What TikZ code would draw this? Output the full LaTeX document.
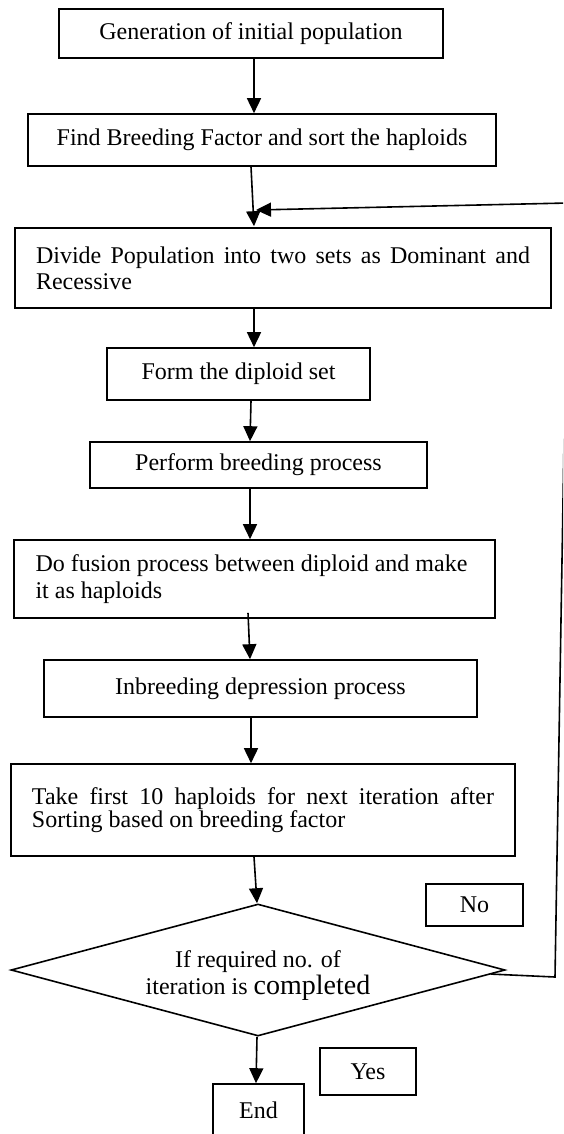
\documentclass[tikz,border=0pt]{standalone}
\usepackage{fontspec}
\setmainfont{Liberation Serif}
\usetikzlibrary{arrows.meta,shapes.geometric}
\begin{document}
\begin{tikzpicture}[x=0.5pt,y=-0.5pt,
  box/.style={draw, line width=0.8pt, inner sep=0pt, font=\fontsize{12}{13}\selectfont, align=center},
  arr/.style={line width=0.8pt, -{Triangle[width=7pt,length=7.5pt]}},
  plain/.style={line width=0.8pt}]
\useasboundingbox (0,0) rectangle (563,1134);
\clip (0,0) rectangle (563,1134);
\fill[white] (0,0) rectangle (563,1134);

\node[box, minimum width=192pt, minimum height=24.5pt] (b1) at (251,33.5) {Generation of initial population};
\node[box, minimum width=234pt, minimum height=26pt] (b2) at (262,140) {Find Breeding Factor and sort the haploids};
\node[box, minimum width=268pt, minimum height=40pt] (b3) at (283,268) {\parbox{247pt}{\baselineskip=13pt Divide Population into two sets as Dominant and\linebreak Recessive}};
\node[box, minimum width=131.5pt, minimum height=26pt] (b4) at (238.5,374) {Form the diploid set};
\node[box, minimum width=168.5pt, minimum height=23pt] (b5) at (258.5,465) {Perform breeding process};
\node[box, minimum width=240.5pt, minimum height=39pt] (b6) at (254.5,579) {\parbox{219pt}{\raggedright\baselineskip=13.5pt Do fusion process between diploid and make\\it as haploids}};
\node[box, minimum width=216.5pt, minimum height=28.5pt] (b7) at (260.5,688.5) {Inbreeding depression process};
\node[box, minimum width=252pt, minimum height=46pt] (b8) at (263,810) {\parbox{231pt}{\baselineskip=11.5pt Take first 10 haploids for next iteration after\linebreak Sorting based on breeding factor}};
\node[draw, line width=0.8pt, inner sep=0pt, shape=diamond, aspect=3.74, minimum width=247pt, minimum height=66pt] (dec) at (258,970) {};
\node[font=\fontsize{12}{13.5}\selectfont, align=center, inner sep=0pt] (dectext) at (258,976) {If required no. of\\iteration is {\fontsize{14}{14}\selectfont completed}};
\node[box, minimum width=48.5pt, minimum height=21pt] (no) at (474.5,905) {No};
\node[box, minimum width=48pt, minimum height=23.5pt] (yes) at (368,1071.5) {Yes};
\node[box, minimum width=45.5pt, minimum height=26pt] (end) at (258.5,1110) {End};

\draw[arr] ([xshift=1.5pt]b1.south) -- ([xshift=-4pt]b2.north);
\draw[arr] ([xshift=-5.5pt]b2.south) -- ([xshift=-14.5pt,yshift=0.5pt]b3.north);
\draw[arr] ([xshift=-14.5pt]b3.south) -- ([xshift=7.75pt]b4.north);
\draw[arr] ([xshift=6.25pt]b4.south) -- ([xshift=-4.25pt]b5.north);
\draw[arr] ([xshift=-4.25pt]b5.south) -- ([xshift=-2.25pt]b6.north);
\draw[arr] ([xshift=-3.25pt,yshift=3pt]b6.south) -- ([xshift=-5.25pt]b7.north);
\draw[arr] ([xshift=-4.75pt]b7.south) -- ([xshift=-6pt]b8.north);
\draw[arr] ([xshift=-4.5pt]b8.south) -- ([xshift=-0.5pt]dec.north);
\draw[arr] ([xshift=-0.5pt]dec.south) -- ([xshift=-1.25pt]end.north);

\coordinate (fb1) at (555,977);
\coordinate (fb2) at (568,203);
\coordinate (fbtip) at (256,210);
\draw[arr] (dec.-1) -- (fb1) -- (fb2) -- (fbtip);
\end{tikzpicture}
\end{document}
